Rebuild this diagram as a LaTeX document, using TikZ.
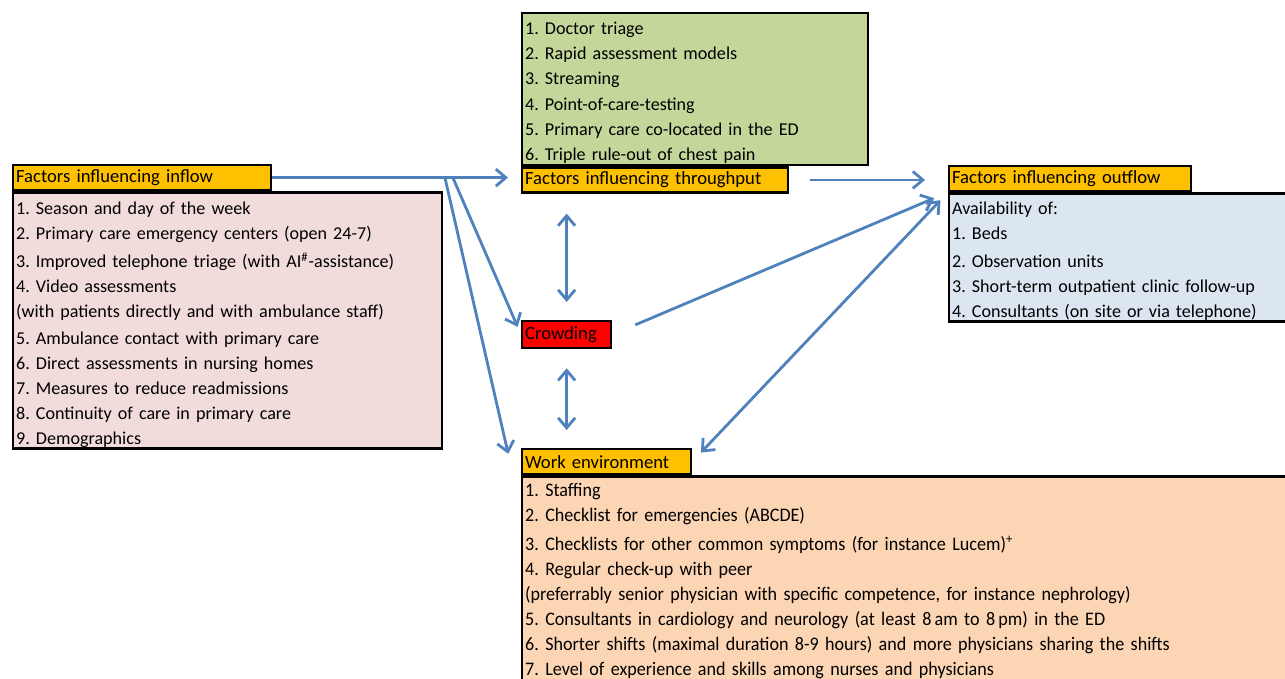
\documentclass[tikz,border=0pt]{standalone}
\usepackage{fontspec}
\setmainfont{Carlito}
\newfontfamily\narrowfont{Carlito}[FakeStretch=0.945]
\usetikzlibrary{arrows.meta, positioning, calc}
\definecolor{headOrange}{HTML}{FFC000}
\definecolor{inflowPink}{HTML}{F2DCDB}
\definecolor{throughGreen}{HTML}{C4D79B}
\definecolor{outflowBlue}{HTML}{DCE6F1}
\definecolor{workPeach}{HTML}{FCD5B4}
\definecolor{crowdRed}{HTML}{FF0000}
\definecolor{arrowBlue}{HTML}{4F81BD}
\frenchspacing
\tikzset{
    head_box/.style={
        rectangle, draw=black, line width=1.3pt, fill=headOrange,
        anchor=north west, align=left, inner xsep=0.06cm, inner ysep=0pt,
        minimum height=0.5cm, font=\fontsize{10.6}{14.2}\selectfont
    },
    body_box/.style={
        rectangle, draw=black, line width=1.3pt,
        anchor=north west, align=left, inner xsep=0.06cm, inner ysep=0.06cm,
        font=\fontsize{10.3}{14.2}\selectfont
    },
    flow_arrow/.style={
        -{Straight Barb[length=0.2cm, width=0.34cm]}, draw=arrowBlue, line width=1.6pt
    },
    dual_arrow/.style={
        {Straight Barb[length=0.2cm, width=0.34cm]}-{Straight Barb[length=0.2cm, width=0.34cm]},
        draw=arrowBlue, line width=1.6pt
    }
}
\begin{document}
\begin{tikzpicture}
    \useasboundingbox (0,0) rectangle (25.7,-13.58);

    % inflow
    \node[head_box, text width=5.04cm] (inflow_head) at (0.24,-3.28) {Factors influencing inflow};
    \node[body_box, fill=inflowPink, text width=8.46cm, text height=0.38cm, text depth=4.62cm] (inflow_body) at (inflow_head.south west) {%
        1. Season and day of the week\\
        2. Primary care emergency centers (open 24-7)\\[2pt]
        3. Improved telephone triage (with AI\textsuperscript{\#}-assistance)\\
        4. Video assessments\\
        (with patients directly and with ambulance staff)\\[1pt]
        5. Ambulance contact with primary care\\
        6. Direct assessments in nursing homes\\
        7. Measures to reduce readmissions\\
        8. Continuity of care in primary care\\
        9. Demographics};

    % throughput
    \node[body_box, fill=throughGreen, text width=6.8cm, text height=0.36cm, text depth=2.56cm,
          font=\fontsize{10.3}{14.4}\selectfont] (through_list) at (10.42,-0.24) {%
        1. Doctor triage\\
        2. Rapid assessment models\\
        3. Streaming\\
        4. Point-of-care-testing\\
        5. Primary care co-located in the ED\\
        6. Triple rule-out of chest pain};
    \node[head_box, text width=5.2cm] (through_head) at (through_list.south west) {Factors influencing throughput};

    % outflow
    \node[head_box, text width=4.72cm] (outflow_head) at (18.96,-3.3) {Factors influencing outflow};
    \node[body_box, fill=outflowBlue, text width=6.7cm, text height=0.36cm, text depth=2.08cm] (outflow_body) at (outflow_head.south west) {%
        Availability of:\\
        1. Beds\\[2pt]
        2. Observation units\\
        3. Short-term outpatient clinic follow-up\\
        4. Consultants (on site or via telephone)};

    % crowding
    \node[head_box, fill=crowdRed, text width=1.66cm, minimum height=0.54cm] (crowding) at (10.42,-6.4) {Crowding};

    % work environment
    \node[head_box, text width=3.26cm] (work_head) at (10.42,-8.96) {Work environment};
    \node[body_box, fill=workPeach, text width=15.3cm, text height=0.34cm, text depth=4.4cm,
          font=\narrowfont\fontsize{10.9}{14.3}\selectfont] (work_body) at (work_head.south west) {%
        1. Staffing\\
        2. Checklist for emergencies (ABCDE)\\[2pt]
        3. Checklists for other common symptoms (for instance Lucem)\textsuperscript{+}\\
        4. Regular check-up with peer\\
        (preferrably senior physician with specific competence, for instance nephrology)\\
        5. Consultants in cardiology and neurology (at least 8\,am to 8\,pm) in the ED\\
        6. Shorter shifts (maximal duration 8-9 hours) and more physicians sharing the shifts\\
        7. Level of experience and skills among nurses and physicians};

    \coordinate (split_a) at (8.9,-3.56);
    \coordinate (split_b) at (9.06,-3.56);

    \draw[flow_arrow, shorten >=0.26cm] (inflow_head.east) -- (through_head.west |- inflow_head.east);
    \draw[flow_arrow, shorten >=0.17cm] (split_b) -- (crowding.west);
    \draw[flow_arrow, shorten >=0.16cm] (split_a) -- ([xshift=-0.22cm]work_head.west);
    \draw[flow_arrow, shorten <=0.42cm, shorten >=0.46cm] (through_head.east) -- (outflow_head.west |- through_head.east);
    \draw[dual_arrow, shorten <=0.36cm, shorten >=0.4cm] (crowding.north) -- (crowding.north |- through_head.south);
    \draw[dual_arrow, shorten <=0.38cm, shorten >=0.36cm] (crowding.south) -- (crowding.south |- work_head.north);
    \draw[flow_arrow, shorten <=0.5cm, shorten >=0.3cm] (crowding.east) -- (outflow_head.south west);
    \draw[dual_arrow, shorten <=0.22cm, shorten >=0.25cm] (outflow_head.south west) -- (work_head.east);
\end{tikzpicture}
\end{document}
